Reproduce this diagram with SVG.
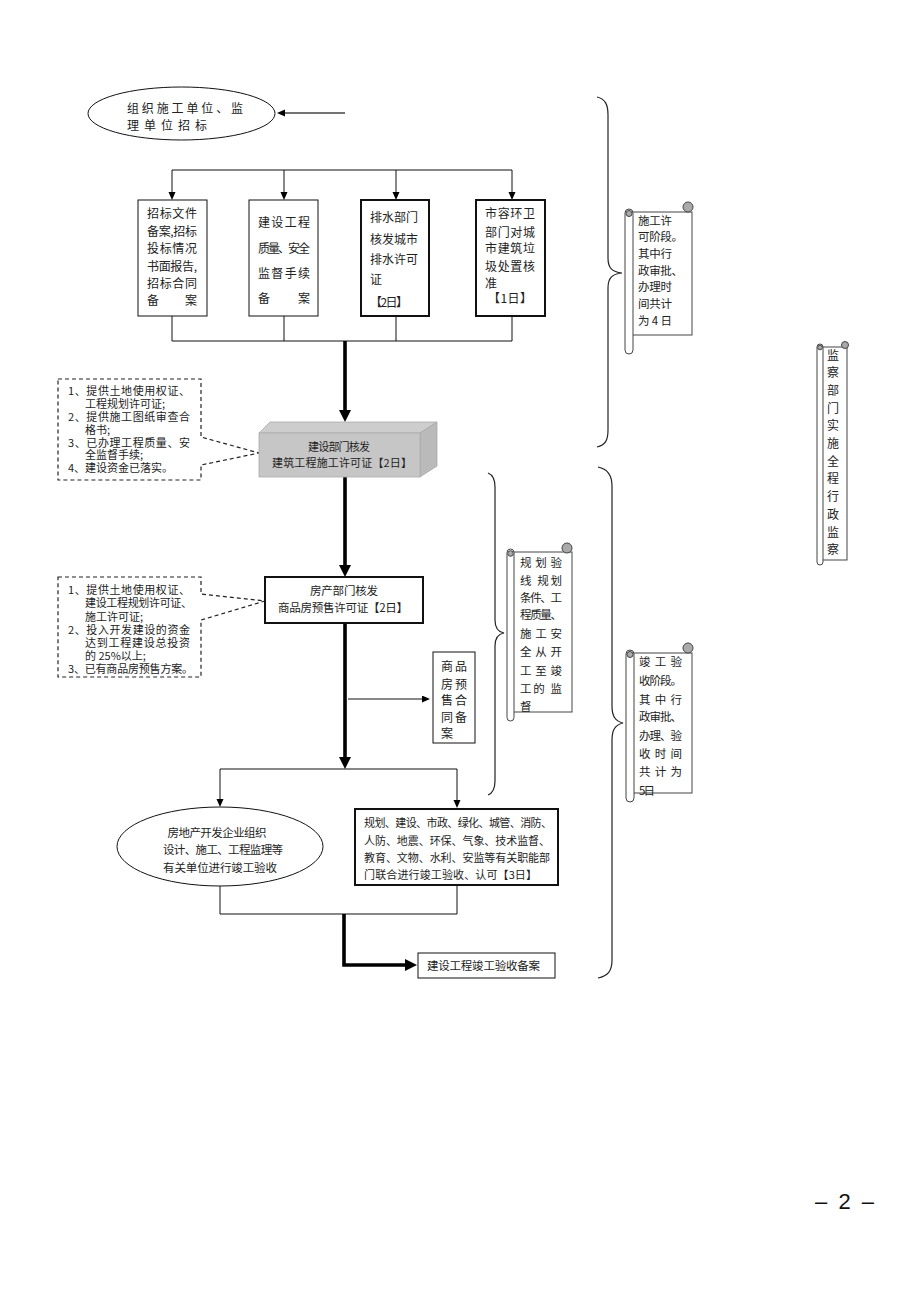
<svg xmlns="http://www.w3.org/2000/svg" width="920" height="1302" viewBox="0 0 920 1302">
<style>
.t{font-family:"Noto Sans CJK SC","Noto Sans CJK JP",sans-serif;font-size:12px;fill:#222}
.s11{font-size:11px}
.s115{font-size:11.5px}
.m{text-anchor:middle}
.box{fill:#fff;stroke:#111;stroke-width:1}
.boxb{fill:#fff;stroke:#111;stroke-width:2}
.ln{fill:none;stroke:#111;stroke-width:1}
.thk{fill:none;stroke:#000;stroke-width:3.6}
.dash{fill:#fff;stroke:#222;stroke-width:1.2;stroke-dasharray:4 3}
.brace{fill:none;stroke:#222;stroke-width:1.2}
.scr{fill:#fff;stroke:#444;stroke-width:1}
.curl{fill:#aaa;stroke:#444;stroke-width:1}
</style>
<defs>
<marker id="a" markerUnits="userSpaceOnUse" markerWidth="10" markerHeight="8" refX="2" refY="3.5" orient="auto"><path d="M0,0 L8,3.5 L0,7 Z" fill="#000"/></marker>
<marker id="A" markerUnits="userSpaceOnUse" markerWidth="14" markerHeight="14" refX="4" refY="6" orient="auto"><path d="M0,0 L12,6 L0,12 Z" fill="#000"/></marker>
</defs>
<rect width="920" height="1302" fill="#fff"/>

<g id="connectors">
<line x1="345" y1="113" x2="283" y2="113" stroke="#444" stroke-width="1.6" marker-end="url(#a)"/>
<path class="ln" d="M172,170 H512"/>
<line class="ln" x1="172" y1="170" x2="172" y2="194" marker-end="url(#a)"/>
<line class="ln" x1="284" y1="170" x2="284" y2="194" marker-end="url(#a)"/>
<line class="ln" x1="396" y1="170" x2="396" y2="194" marker-end="url(#a)"/>
<line class="ln" x1="512" y1="170" x2="512" y2="194" marker-end="url(#a)"/>
<path class="ln" d="M172,316 V341 H512 V316 M284,316 V341 M396,316 V341"/>
<line class="thk" x1="345" y1="341" x2="345" y2="414" marker-end="url(#A)"/>
<line class="thk" x1="345" y1="477" x2="345" y2="569" marker-end="url(#A)"/>
<line class="thk" x1="345" y1="623" x2="345" y2="761" marker-end="url(#A)"/>
<line class="ln" x1="348" y1="699" x2="424" y2="699" marker-end="url(#a)"/>
<path class="ln" d="M220,769 H457"/>
<line class="ln" x1="220" y1="769" x2="220" y2="801" marker-end="url(#a)"/>
<line class="ln" x1="457" y1="769" x2="457" y2="802" marker-end="url(#a)"/>
<path class="ln" d="M220,886 V914 H457 V885"/>
<path class="thk" d="M344,914 V965 H409" marker-end="url(#A)"/>
</g>

<g id="n-top-ellipse">
<ellipse cx="181.5" cy="113.5" rx="93.5" ry="26.5" class="box"/>
<text class="t"><tspan x="127" y="112.5" textLength="116">组织施工单位、监</tspan><tspan x="127" y="129.5" textLength="80">理单位招标</tspan></text>
</g>

<g id="n-box1">
<rect x="138" y="200" width="69" height="116" class="box"/>
<text class="t"><tspan x="147" y="217.5" textLength="50">招标文件</tspan><tspan x="147" y="235.5" textLength="50">备案,招标</tspan><tspan x="147" y="252.5" textLength="50">投标情况</tspan><tspan x="147" y="270.5" textLength="50">书面报告,</tspan><tspan x="147" y="287.5" textLength="50">招标合同</tspan><tspan x="147" y="304.5">备</tspan><tspan x="185" y="304.5">案</tspan></text>
</g>

<g id="n-box2">
<rect x="249" y="200" width="69" height="116" class="box"/>
<text class="t"><tspan x="258" y="226.5" textLength="52">建设工程</tspan><tspan x="258" y="252.5" textLength="52">质量、安全</tspan><tspan x="258" y="277.5" textLength="52">监督手续</tspan><tspan x="258" y="302.5">备</tspan><tspan x="298" y="302.5">案</tspan></text>
</g>

<g id="n-box3">
<rect x="361" y="200" width="68" height="116" class="boxb"/>
<text class="t"><tspan x="370" y="221.5" textLength="48">排水部门</tspan><tspan x="370" y="243.5" textLength="48">核发城市</tspan><tspan x="370" y="263.5" textLength="48">排水许可</tspan><tspan x="370" y="283.5">证</tspan><tspan x="370" y="306.5" textLength="38">【2日】</tspan></text>
</g>

<g id="n-box4">
<rect x="476" y="200" width="69" height="116" class="boxb"/>
<text class="t"><tspan x="485" y="217.5" textLength="50">市容环卫</tspan><tspan x="485" y="236.5" textLength="50">部门对城</tspan><tspan x="485" y="252.5" textLength="50">市建筑垃</tspan><tspan x="485" y="270.5" textLength="50">圾处置核</tspan><tspan x="485" y="287.5">准</tspan><tspan x="488" y="302.5" textLength="44">【1日】</tspan></text>
</g>

<g id="n-note1">
<path class="dash" d="M58,379 H201 V437 L259,453 L201,465 V480 H58 Z"/>
<text class="t s11"><tspan x="68" y="395" textLength="122">1、提供土地使用权证、</tspan><tspan x="85" y="408">工程规划许可证;</tspan><tspan x="68" y="421" textLength="122">2、提供施工图纸审查合</tspan><tspan x="85" y="433.5">格书;</tspan><tspan x="68" y="446.5" textLength="122">3、已办理工程质量、安</tspan><tspan x="85" y="459">全监督手续;</tspan><tspan x="68" y="472">4、建设资金已落实。</tspan></text>
</g>

<g id="n-permit">
<polygon points="259,433 270,422 437,422 420,433" fill="#cdcdcd" stroke="#aaa" stroke-width="0.8"/>
<polygon points="420,433 437,422 437,466 420,477" fill="#bababa" stroke="#aaa" stroke-width="0.8"/>
<rect x="259" y="433" width="161" height="44" fill="#c6c6c6" stroke="#aaa" stroke-width="0.8"/>
<text class="t s11 m"><tspan x="339" y="451" textLength="62">建设部门核发</tspan><tspan x="342" y="467" textLength="140">建筑工程施工许可证【2日】</tspan></text>
</g>

<g id="n-note2">
<path class="dash" d="M58,577 H201 V594 L265,601 L201,620 V677 H58 Z"/>
<text class="t s11"><tspan x="68" y="594" textLength="122">1、提供土地使用权证、</tspan><tspan x="85" y="607" textLength="107">建设工程规划许可证、</tspan><tspan x="85" y="620.5">施工许可证;</tspan><tspan x="68" y="634" textLength="122">2、投入开发建设的资金</tspan><tspan x="85" y="647" textLength="105">达到工程建设总投资</tspan><tspan x="85" y="659.5">的 25%以上;</tspan><tspan x="68" y="672.5" textLength="125">3、已有商品房预售方案。</tspan></text>
</g>

<g id="n-presale">
<rect x="265" y="577" width="158" height="46" class="boxb"/>
<text class="t s115 m"><tspan x="344" y="595" textLength="68">房产部门核发</tspan><tspan x="343" y="612" textLength="130">商品房预售许可证【2日】</tspan></text>
</g>

<g id="n-contract">
<rect x="433" y="652" width="42" height="91" class="box"/>
<text class="t m"><tspan x="447" y="670.5">商</tspan><tspan x="461" y="670.5">品</tspan><tspan x="447" y="688.5">房</tspan><tspan x="461" y="688.5">预</tspan><tspan x="447" y="704.5">售</tspan><tspan x="461" y="704.5">合</tspan><tspan x="447" y="721.5">同</tspan><tspan x="461" y="721.5">备</tspan><tspan x="447" y="737.5">案</tspan></text>
</g>

<g id="n-dev-accept">
<ellipse cx="220" cy="846.5" rx="103" ry="39.5" class="box"/>
<text class="t s115 m"><tspan x="217" y="836.5" textLength="99">房地产开发企业组织</tspan><tspan x="223" y="853.5" textLength="120">设计、施工、工程监理等</tspan><tspan x="220" y="871.5" textLength="114">有关单位进行竣工验收</tspan></text>
</g>

<g id="n-dept-accept">
<rect x="355" y="809" width="203" height="76" class="boxb"/>
<text class="t s11"><tspan x="364" y="827" textLength="188">规划、建设、市政、绿化、城管、消防、</tspan><tspan x="364" y="845" textLength="186">人防、地震、环保、气象、技术监督、</tspan><tspan x="364" y="862" textLength="186">教育、文物、水利、安监等有关职能部</tspan><tspan x="364" y="879" textLength="173">门联合进行竣工验收、认可【3日】</tspan></text>
</g>

<g id="n-record">
<rect x="418" y="953" width="137" height="25" class="box"/>
<text class="t s115" x="427" y="969.5" textLength="113">建设工程竣工验收备案</text>
</g>

<g id="braces">
<path class="brace" d="M597,97 C605,99 608,104 608,115 L608,258 C608,268 612,272 622,273 C612,274 608,278 608,288 L608,430 C608,441 605,445 597,447"/>
<path class="brace" d="M598,467 C608,469 612,475 612,486 L612,706 C612,716 615,721 623,723 C615,725 612,730 612,740 L612,960 C612,971 608,976 598,978"/>
<path class="brace" d="M488,473 C493,475 495,479 495,487 L495,620 C495,628 498,632 504,633 C498,634 495,638 495,646 L495,781 C495,789 493,793 488,795"/>
</g>

<g id="n-scroll-permit">
<rect x="632" y="212" width="60" height="123" class="scr"/>
<circle cx="688" cy="207" r="5" class="curl"/>
<rect x="625" y="209" width="8" height="145" rx="4" class="scr"/>
<circle cx="629" cy="213.5" r="3" class="curl"/>
<text class="t s115"><tspan x="638" y="225" textLength="34">施工许</tspan><tspan x="638" y="241" textLength="45">可阶段。</tspan><tspan x="638" y="258" textLength="34">其中行</tspan><tspan x="638" y="274.5" textLength="45">政审批、</tspan><tspan x="638" y="291" textLength="34">办理时</tspan><tspan x="638" y="307.5" textLength="34">间共计</tspan><tspan x="638" y="324.5" textLength="34">为 4 日</tspan></text>
</g>

<g id="n-scroll-plan">
<rect x="513" y="552" width="59" height="160" class="scr"/>
<circle cx="567" cy="548" r="5" class="curl"/>
<rect x="507" y="549" width="7" height="172" rx="3.5" class="scr"/>
<circle cx="510.5" cy="553.5" r="2.8" class="curl"/>
<text class="t s115"><tspan x="520" y="567" textLength="42">规划验</tspan><tspan x="520" y="584.5" textLength="42">线 规划</tspan><tspan x="520" y="601.5" textLength="42">条件、工</tspan><tspan x="520" y="618.5" textLength="42">程质量、</tspan><tspan x="520" y="637.5" textLength="42">施工安</tspan><tspan x="520" y="656" textLength="42">全从开</tspan><tspan x="520" y="674.5" textLength="42">工至竣</tspan><tspan x="520" y="692.5" textLength="42">工的 监</tspan><tspan x="520" y="711">督</tspan></text>
</g>

<g id="n-scroll-accept">
<rect x="633" y="653" width="59" height="140" class="scr"/>
<circle cx="688" cy="648" r="5" class="curl"/>
<rect x="626" y="650" width="8" height="152" rx="4" class="scr"/>
<circle cx="630" cy="654.5" r="3" class="curl"/>
<text class="t s115"><tspan x="639" y="666" textLength="43">竣工验</tspan><tspan x="639" y="684.5" textLength="43">收阶段。</tspan><tspan x="639" y="703.5" textLength="43">其中行</tspan><tspan x="639" y="721" textLength="43">政审批、</tspan><tspan x="639" y="739.5" textLength="43">办理、验</tspan><tspan x="639" y="757.5" textLength="43">收时间</tspan><tspan x="639" y="776" textLength="43">共计为</tspan><tspan x="639" y="794.5" textLength="16">5日</tspan></text>
</g>

<g id="n-scroll-monitor">
<rect x="822" y="347" width="25" height="213" class="scr"/>
<circle cx="845" cy="345" r="3.5" class="curl"/>
<rect x="817" y="344" width="6" height="221" rx="3" class="scr"/>
<circle cx="820" cy="347.5" r="2.3" class="curl"/>
<text class="t m"><tspan x="833" y="359.5">监</tspan><tspan x="833" y="377.2">察</tspan><tspan x="833" y="394.9">部</tspan><tspan x="833" y="412.6">门</tspan><tspan x="833" y="430.3">实</tspan><tspan x="833" y="448">施</tspan><tspan x="833" y="465.7">全</tspan><tspan x="833" y="483.4">程</tspan><tspan x="833" y="501.1">行</tspan><tspan x="833" y="518.8">政</tspan><tspan x="833" y="536.5">监</tspan><tspan x="833" y="554.2">察</tspan></text>
</g>

<g id="page-number">
<text x="815" y="1209" font-family="Liberation Sans, Arial, sans-serif" font-size="22" fill="#111" textLength="59" xml:space="preserve">– 2 –</text>
</g>
</svg>
